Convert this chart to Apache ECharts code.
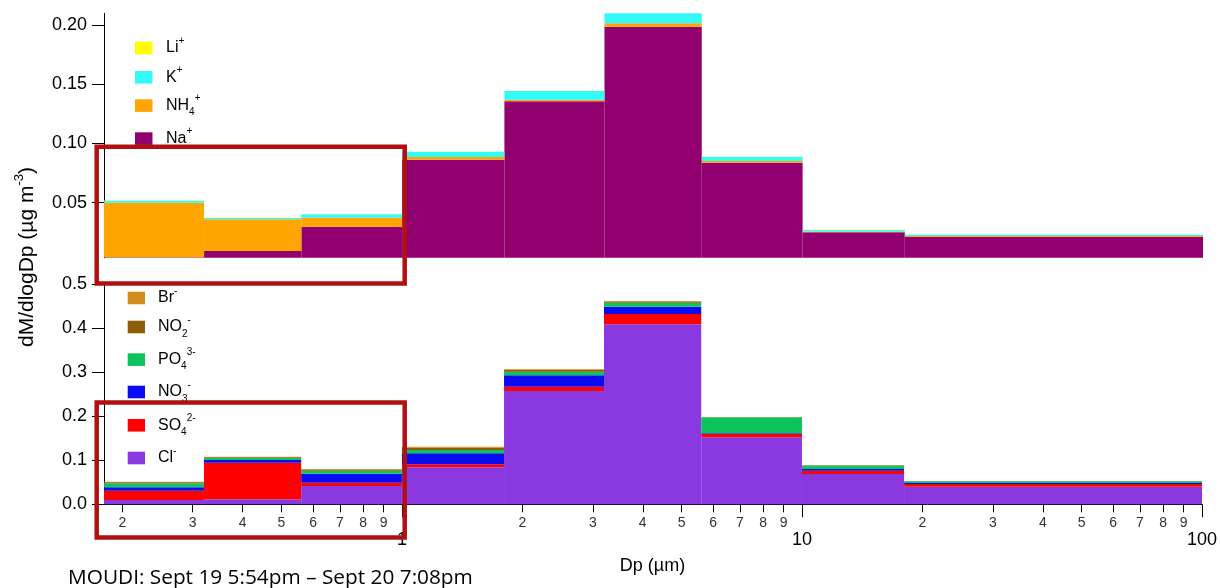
<!DOCTYPE html>
<html><head><meta charset="utf-8">
<script src="https://cdn.jsdelivr.net/npm/echarts@6/dist/echarts.min.js"></script>
<style>html,body{margin:0;padding:0;background:#fff}#c{width:1220px;height:588px}</style>
</head><body><div id="c"></div>
<script>
// ---- data ----
const binEdges = [0.18, 0.32, 0.56, 1.0, 1.8, 3.2, 5.6, 10, 18, 100];
// cations (upper panel), stacked bottom -> top
const naPlus  = [0.004, 0.0092, 0.0297, 0.0863, 0.1356, 0.1985, 0.0837, 0.0250, 0.0213];
const nh4Plus = [0.046, 0.0268, 0.0076, 0.0023, 0.0013, 0.0029, 0.0015, 0.0008, 0.0007];
const kPlus   = [0.0017, 0.0011, 0.0029, 0.0044, 0.0074, 0.0093, 0.0036, 0.0011, 0.0010];
const liPlus  = [0.0002, 0.0002, 0.0002, 0.0003, 0.0003, 0.0004, 0.0002, 0.0002, 0.0002];
// anions (lower panel), stacked bottom -> top
const clMinus  = [0.0098, 0.0113, 0.0415, 0.0840, 0.2572, 0.4085, 0.1521, 0.0688, 0.0399];
const so4Minus = [0.0211, 0.0831, 0.0075, 0.0068, 0.0097, 0.0234, 0.0075, 0.0075, 0.0062];
const no3Minus = [0.0077, 0.0061, 0.0205, 0.0249, 0.0259, 0.0166, 0.0015, 0.0038, 0.0022];
const po4Minus = [0.0091, 0.0046, 0.0068, 0.0075, 0.0082, 0.0091, 0.0364, 0.0081, 0.0042];
const no2Minus = [0.0025, 0.0018, 0.0025, 0.0050, 0.0036, 0.0025, 0.0003, 0.0006, 0.0002];
const brMinus  = [0.0011, 0.0011, 0.0013, 0.0025, 0.0018, 0.0013, 0.0002, 0.0004, 0.0002];
// ticks
const yTicksTop = [0.05, 0.10, 0.15, 0.20];
const yTicksBottom = [0.0, 0.1, 0.2, 0.3, 0.4, 0.5];
const xMajorTicks = [1, 10, 100];
const xMinorTicks = [0.2, 0.3, 0.4, 0.5, 0.6, 0.7, 0.8, 0.9, 2, 3, 4, 5, 6, 7, 8, 9, 20, 30, 40, 50, 60, 70, 80, 90];
const xMinorLabels = ['2','3','4','5','6','7','8','9','2','3','4','5','6','7','8','9','2','3','4','5','6','7','8','9'];

const FONT = 'Liberation Sans, Arial, sans-serif';
const cationSpecies = [
  {name: 'Na+', values: naPlus, color: '#920070'},
  {name: 'NH4+', values: nh4Plus, color: '#FFA500'},
  {name: 'K+', values: kPlus, color: '#33FAFA'},
  {name: 'Li+', values: liPlus, color: '#FFFF00'}
];
const anionSpecies = [
  {name: 'Cl-', values: clMinus, color: '#8A38E0'},
  {name: 'SO4 2-', values: so4Minus, color: '#FF0000'},
  {name: 'NO3-', values: no3Minus, color: '#0A0AF5'},
  {name: 'PO4 3-', values: po4Minus, color: '#0DC45C'},
  {name: 'NO2-', values: no2Minus, color: '#8F5C0A'},
  {name: 'Br-', values: brMinus, color: '#D08C1C'}
];

function buildStack(species, xIdx, yIdx) {
  const base = binEdges.slice(0, -1).map(() => 0);
  return species.map(sp => {
    const data = sp.values.map((v, i) => {
      const b = base[i];
      base[i] += v;
      return [binEdges[i], binEdges[i + 1], b, b + v];
    });
    return {
      type: 'custom', name: sp.name, xAxisIndex: xIdx, yAxisIndex: yIdx,
      itemStyle: {color: sp.color},
      encode: {x: [0, 1], y: [2, 3]},
      data: data,
      silent: true,
      renderItem: function (params, api) {
        const p0 = api.coord([api.value(0), api.value(3)]);
        const p1 = api.coord([api.value(1), api.value(2)]);
        const cs = params.coordSys;
        const r = echarts.graphic.clipRectByRect(
          {x: p0[0], y: p0[1], width: p1[0] - p0[0], height: p1[1] - p0[1]},
          {x: cs.x, y: cs.y, width: cs.width, height: cs.height});
        return r && {type: 'rect', shape: r, style: {fill: api.visual('color')}};
      }
    };
  });
}

const GL = 104, GR = 17;
const yAxisCommon = (ticks, fmt) => ({
  type: 'value',
  axisLine: {show: true, lineStyle: {color: '#000', width: 1}},
  axisTick: {show: true, length: 12, customValues: ticks, lineStyle: {color: '#000'}},
  axisLabel: {customValues: ticks, formatter: fmt, fontSize: 18, color: '#000', margin: 17, fontFamily: FONT},
  splitLine: {show: false}
});

const rich = {
  m: {fontSize: 16, fontFamily: FONT, color: '#1a1a1a', lineHeight: 24},
  sup: {fontSize: 10, fontFamily: FONT, color: '#1a1a1a', verticalAlign: 'top', lineHeight: 12},
  sub: {fontSize: 10, fontFamily: FONT, color: '#1a1a1a', verticalAlign: 'bottom', lineHeight: 12}
};
const legendTop = [
  {t: '{m|Li}{sup|+}', c: '#FFFF00', y: 41.7},
  {t: '{m|K}{sup|+}', c: '#33FAFA', y: 71},
  {t: '{m|NH}{sub|4}{sup|+}', c: '#FFA500', y: 99.3},
  {t: '{m|Na}{sup|+}', c: '#920070', y: 132.3}
];
const legendBottom = [
  {t: '{m|Br}{sup|-}', c: '#D08C1C', y: 291.7},
  {t: '{m|NO}{sub|2}{sup|-}', c: '#8F5C0A', y: 320.7},
  {t: '{m|PO}{sub|4}{sup|3-}', c: '#0DC45C', y: 353.3},
  {t: '{m|NO}{sub|3}{sup|-}', c: '#0A0AF5', y: 385.7},
  {t: '{m|SO}{sub|4}{sup|2-}', c: '#FF0000', y: 419},
  {t: '{m|Cl}{sup|-}', c: '#8A38E0', y: 451.7}
];
const graphics = [];
legendTop.forEach(it => {
  graphics.push({type: 'rect', shape: {x: 135, y: it.y, width: 17.5, height: 12.6}, style: {fill: it.c}, z: 50});
  graphics.push({type: 'text', x: 166, y: it.y + 6.3, style: {text: it.t, rich: rich, verticalAlign: 'middle', align: 'left'}, z: 50});
});
legendBottom.forEach(it => {
  graphics.push({type: 'rect', shape: {x: 127.7, y: it.y, width: 17.3, height: 12.6}, style: {fill: it.c}, z: 50});
  graphics.push({type: 'text', x: 158, y: it.y + 6.3, style: {text: it.t, rich: rich, verticalAlign: 'middle', align: 'left'}, z: 50});
});
// y title
graphics.push({type: 'text', x: 27, y: 257, rotation: Math.PI / 2,
  style: {text: '{m|dM/dlogDp (µg m}{sup|-3}{m|)}', align: 'center', verticalAlign: 'middle',
    rich: {m: {fontSize: 21, fontFamily: FONT, color: '#000', lineHeight: 29},
           sup: {fontSize: 13, fontFamily: FONT, color: '#000', verticalAlign: 'top', lineHeight: 13}}}, z: 50});
// x title
graphics.push({type: 'text', x: 652.5, y: 566, style: {text: 'Dp (µm)', fontSize: 18, fontFamily: FONT, fill: '#000', align: 'center', verticalAlign: 'middle'}, z: 50});
// footer
graphics.push({type: 'text', x: 68, y: 578, style: {text: 'MOUDI: Sept 19 5:54pm – Sept 20 7:08pm', fontSize: 20.8, fontFamily: 'Open Sans, sans-serif', fill: '#000', align: 'left', verticalAlign: 'middle'}, z: 50});
// highlight boxes
graphics.push({type: 'rect', shape: {x: 96.7, y: 146.7, width: 308, height: 136.8}, style: {fill: 'none', stroke: '#B01010', lineWidth: 4.5}, z: 100});
graphics.push({type: 'rect', shape: {x: 96.7, y: 402.5, width: 308, height: 135}, style: {fill: 'none', stroke: '#B01010', lineWidth: 4.5}, z: 100});

const option = {
  animation: false,
  backgroundColor: '#fff',
  grid: [
    {left: GL, right: GR, top: 13.3, height: 244.4},
    {left: GL, right: GR, top: 284, height: 220.3}
  ],
  xAxis: [
    {type: 'log', logBase: 10, gridIndex: 0, min: 0.18, max: 100, show: false, position: 'bottom'},
    {type: 'log', logBase: 10, gridIndex: 1, min: 0.18, max: 100, position: 'bottom', offset: 0,
      axisLine: {show: true, lineStyle: {color: '#000', width: 1}},
      axisTick: {show: true, length: 13, customValues: xMajorTicks, lineStyle: {color: '#000'}},
      axisLabel: {customValues: xMajorTicks, formatter: v => String(Math.round(v)), fontSize: 18, color: '#000', margin: 27, fontFamily: FONT},
      splitLine: {show: false}},
    {type: 'log', logBase: 10, gridIndex: 1, min: 0.18, max: 100, position: 'bottom', offset: 0,
      axisLine: {show: false},
      axisTick: {show: true, length: 8, customValues: xMinorTicks, lineStyle: {color: '#000'}},
      axisLabel: {customValues: xMinorTicks, formatter: v => xMinorLabels[xMinorTicks.findIndex(t => Math.abs(t - v) < t * 1e-6)] || '', fontSize: 14, color: '#333', margin: 12, fontFamily: FONT},
      splitLine: {show: false}}
  ],
  yAxis: [
    Object.assign({gridIndex: 0, min: 0.0036, max: 0.2099}, yAxisCommon(yTicksTop, v => v.toFixed(2))),
    Object.assign({gridIndex: 1, min: 0, max: 0.5}, yAxisCommon(yTicksBottom, v => v.toFixed(1)))
  ],
  series: [].concat(buildStack(cationSpecies, 0, 0), buildStack(anionSpecies, 1, 1)),
  graphic: graphics
};
const chart = echarts.init(document.getElementById('c'), null, {renderer: 'canvas'});
chart.setOption(option);
</script></body></html>
